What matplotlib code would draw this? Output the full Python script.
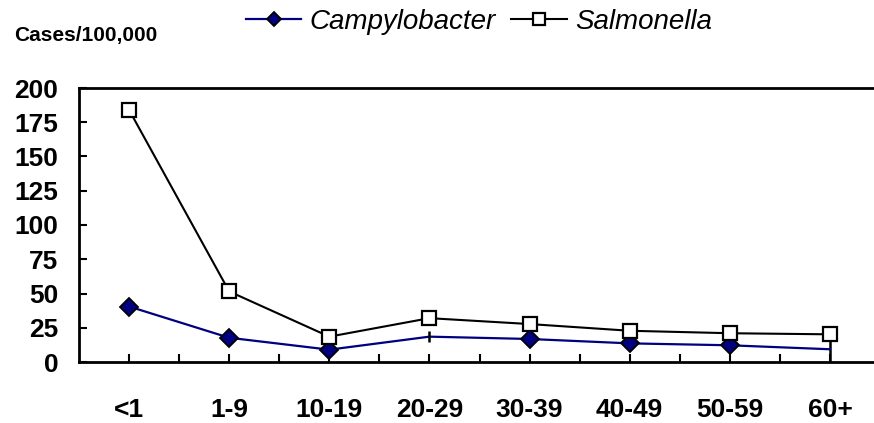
import numpy as np
import matplotlib
matplotlib.use("Agg")
import matplotlib.pyplot as plt

plt.rcParams['font.family'] = ['Liberation Sans', 'DejaVu Sans']

age_groups = ["<1", "1-9", "10-19", "20-29", "30-39", "40-49", "50-59", "60+"]
campylobacter = [40.5, 17.7, 9.0, 18.5, 16.8, 13.6, 12.2, 9.3]
salmonella = [184, 51.5, 18.5, 32, 27.7, 22.8, 21, 20.2]
y_ticks = [0, 25, 50, 75, 100, 125, 150, 175, 200]

fig = plt.figure(figsize=(8.74, 4.23), dpi=100)
ax = fig.add_axes([79/874, 61/423, 801/874, 274/423])

x = np.arange(len(age_groups))

# campylobacter: no marker drawn at 20-29 and 60+ in the original
ax.plot(x, campylobacter, color="#000080", lw=1.6, marker="D", ms=9.5,
        mfc="#000080", mec="black", mew=1.3, markevery=[0, 1, 2, 4, 5, 6],
        label="Campylobacter", zorder=3)
ax.plot(x, salmonella, color="black", lw=1.5, marker="s", ms=10.5,
        mfc="white", mec="black", mew=1.6, label="Salmonella", zorder=4)

# odd little bars in the original
ax.vlines(x[3], campylobacter[3] - 4, campylobacter[3] + 4, color="black", lw=1.8, zorder=5)
ax.vlines(x[7], 0, salmonella[7], color="black", lw=1.8, zorder=2)

ax.set_xlim(-0.5, 7.5)
ax.set_ylim(0, 200)
ax.set_xticks(np.arange(0, 8, 0.5))
ax.set_xticklabels([])
ax.set_yticks(y_ticks)
ax.set_yticklabels([str(v) for v in y_ticks], fontsize=19, fontweight="bold")
ax.tick_params(axis="both", direction="in", length=6, width=1.5, color="black")
ax.tick_params(axis="y", pad=15)
for i, lab in enumerate(age_groups):
    ax.text(x[i], -35, lab, ha="center", va="center", fontsize=19,
            fontweight="bold", transform=ax.transData, clip_on=False)

ax.spines["right"].set_visible(False)
for s in ["left", "top", "bottom"]:
    ax.spines[s].set_linewidth(2)

fig.text(14/874, 1 - 35/423, "Cases/100,000", fontsize=15, fontweight="bold",
         ha="left", va="center")
fig.legend(loc="center", bbox_to_anchor=(479/874, 1 - 22/423), ncol=2,
           frameon=False, prop={"style": "italic", "size": 20},
           markerscale=0.8, handlelength=2.0, handletextpad=0.3,
           columnspacing=0.55, borderpad=0)

fig.savefig("out.png", dpi=100)
